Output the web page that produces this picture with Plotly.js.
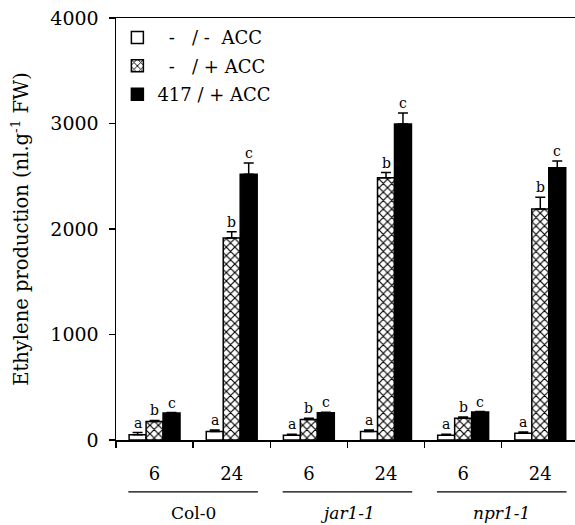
<!DOCTYPE html>
<html>
<head>
<meta charset="utf-8">
<script src="https://cdn.plot.ly/plotly-3.0.1.min.js"></script>
<style>html,body{margin:0;padding:0;background:#fff;}#chart{width:575px;height:525px;}</style>
</head>
<body>
<div id="chart"></div>
<script>
// ---- data ----
var positions = [0, 1, 2, 3, 4, 5];
var hourLabels = ['6', '24', '6', '24', '6', '24'];
var genotypes = ['Col-0', '<i>jar1-1</i>', '<i>npr1-1</i>'];

var seriesNames = ['\u00A0\u00A0-\u00A0\u00A0\u00A0/ -\u00A0\u00A0ACC', '\u00A0\u00A0-\u00A0\u00A0\u00A0/ + ACC', '417 / + ACC'];
var noneVals = [50, 80, 45, 80, 45, 65];
var accVals  = [175, 1915, 195, 2485, 205, 2190];
var e417Vals = [255, 2520, 258, 2995, 265, 2580];
var noneErr  = [20, 15, 10, 15, 10, 10];
var accErr   = [10, 60, 12, 50, 12, 110];
var e417Err  = [5, 105, 5, 105, 5, 65];
var noneLetters = ['a', 'a', 'a', 'a', 'a', 'a'];
var accLetters  = ['b', 'b', 'b', 'b', 'b', 'b'];
var e417Letters = ['c', 'c', 'c', 'c', 'c', 'c'];

var FONT = "'DejaVu Serif', 'Liberation Serif', serif";

function errObj(arr) {
  return {type: 'data', array: arr, arrayminus: arr.map(function(){return 0;}), symmetric: false,
          visible: true, color: '#000', thickness: 1.5, width: 5};
}

var traces = [
  {type: 'bar', x: positions, y: noneVals, name: seriesNames[0], legendgroup: 'g1',
   marker: {color: '#fff', line: {color: '#000', width: 1.5}}, error_y: errObj(noneErr)},
  {type: 'bar', x: positions, y: accVals, name: seriesNames[1], legendgroup: 'g2',
   marker: {color: '#fff', line: {color: '#000', width: 1.5},
            pattern: {shape: 'x', fgcolor: '#000', bgcolor: '#fff', size: 6, solidity: 0.35}},
   error_y: errObj(accErr)},
  {type: 'bar', x: positions, y: e417Vals, name: seriesNames[2], legendgroup: 'g3',
   marker: {color: '#000', line: {color: '#000', width: 1.5}}, error_y: errObj(e417Err)}
];

// letter annotations above bars (offset within each group computed from bar slot)
var annotations = [];
var slot = 0.22;
var sets = [[noneVals, noneErr, noneLetters], [accVals, accErr, accLetters], [e417Vals, e417Err, e417Letters]];
sets.forEach(function(s, k) {
  positions.forEach(function(p, i) {
    annotations.push({x: p + (k - 1) * slot, y: s[0][i] + s[1][i], xref: 'x', yref: 'y',
      text: s[2][i], showarrow: false, yanchor: 'bottom', yshift: 0,
      font: {family: FONT, size: 14, color: '#000'}});
  });
});

// genotype labels and separator lines
var shapes = [];
genotypes.forEach(function(g, i) {
  var c = 2 * i + 0.5;
  shapes.push({type: 'line', xref: 'x', yref: 'paper', x0: c - 0.84, x1: c + 0.84,
    y0: -0.123, y1: -0.123, line: {color: '#000', width: 1.2}});
  annotations.push({x: c, y: -0.172, xref: 'x', yref: 'paper', text: g, showarrow: false,
    yanchor: 'middle', font: {family: FONT, size: 17, color: '#000'}});
});

var layout = {
  width: 575, height: 525,
  margin: {l: 116, r: 0, t: 18, b: 85},
  paper_bgcolor: '#fff', plot_bgcolor: '#fff',
  font: {family: FONT, size: 18, color: '#000'},
  barmode: 'group', bargap: 0.34, bargroupgap: 0,
  showlegend: true,
  legend: {x: 0.003, y: 0.997, xanchor: 'left', yanchor: 'top', bgcolor: 'rgba(0,0,0,0)',
           font: {family: FONT, size: 18, color: '#000'}, itemwidth: 30, tracegroupgap: 2,
           traceorder: 'grouped'},
  xaxis: {
    range: [-0.5, 5.45], tickvals: positions, ticktext: hourLabels, ticks: '',
    showline: true, linecolor: '#000', linewidth: 1.5, mirror: true,
    showgrid: false, zeroline: false, ticklabelstandoff: 17,
    tickfont: {family: FONT, size: 18, color: '#000'},
    minor: {tick0: -0.5, dtick: 1, ticks: 'outside', ticklen: 6, tickcolor: '#000', tickwidth: 1.5, showgrid: false}
  },
  yaxis: {
    range: [0, 4000], tickvals: [0, 1000, 2000, 3000, 4000], ticks: 'outside', ticklen: 6,
    tickwidth: 1.5, tickcolor: '#000', showline: true, linecolor: '#000', linewidth: 1.5,
    showgrid: false, zeroline: false, ticklabelstandoff: 6,
    tickfont: {family: FONT, size: 19, color: '#000'},
    title: {text: 'Ethylene production (nl.g<sup>-1</sup> FW)', standoff: 16,
            font: {family: FONT, size: 19.5, color: '#000'}},
    automargin: false
  },
  annotations: annotations,
  shapes: shapes
};

Plotly.newPlot('chart', traces, layout, {displayModeBar: false, staticPlot: true});
</script>
</body>
</html>
